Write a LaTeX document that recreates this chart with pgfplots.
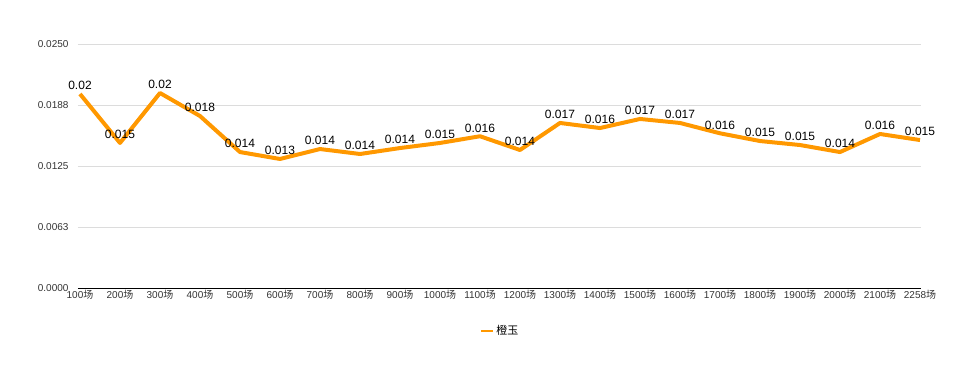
\documentclass[border=0pt]{standalone}
\usepackage{pgfplots}
\pgfplotsset{compat=1.18}
\usepackage{fontspec}
\setmainfont{Liberation Sans}
\newfontfamily\cjk{Noto Sans CJK SC}
\definecolor{lineorange}{RGB}{255,152,0}
\definecolor{gridgray}{RGB}{220,220,220}
\begin{document}
\begin{tikzpicture}
\begin{axis}[
  scale only axis,
  width=843pt, height=244pt,
  xmin=-0.05, xmax=21.025,
  ymin=0, ymax=0.025,
  axis x line*=bottom,
  axis y line*=left,
  x axis line style={black, line width=1pt},
  y axis line style={draw=none},
  xtick=data,
  xticklabels={100{\cjk 场},200{\cjk 场},300{\cjk 场},400{\cjk 场},500{\cjk 场},600{\cjk 场},700{\cjk 场},800{\cjk 场},900{\cjk 场},1000{\cjk 场},1100{\cjk 场},1200{\cjk 场},1300{\cjk 场},1400{\cjk 场},1500{\cjk 场},1600{\cjk 场},1700{\cjk 场},1800{\cjk 场},1900{\cjk 场},2000{\cjk 场},2100{\cjk 场},2258{\cjk 场}},
  x tick label style={font=\fontsize{10}{12}\selectfont, text=black!80, inner sep=1pt, yshift=-1pt},
  major tick length=0pt,
  scaled y ticks=false,
  ytick={0,0.00625,0.0125,0.01875,0.025},
  yticklabels={0.0000,0.0063,0.0125,0.0188,0.0250},
  y tick label style={font=\fontsize{10}{12}\selectfont, text=black!80, xshift=-6pt},
  ymajorgrids,
  grid style={gridgray, line width=0.8pt},
  /pgf/number format/assume math mode=true,
  nodes near coords,
  nodes near coords style={font=\fontsize{12}{14}\selectfont, text=black, anchor=south, inner sep=1pt, yshift=1pt,
     /pgf/number format/fixed, /pgf/number format/precision=3},
  legend style={at={(0.5006,-0.176)}, anchor=center, draw=none, fill=none,
     font=\fontsize{11}{13}\selectfont\cjk, legend cell align=left},
  legend image code/.code={\draw[lineorange, line width=2.5pt] (0pt,0pt) -- (12pt,0pt);},
  clip=false,
]
\addplot[lineorange, line width=4pt, line join=round] coordinates {
  (0,0.01988) (1,0.01486) (2,0.01998) (3,0.01762) (4,0.01393) (5,0.01322)
  (6,0.01424) (7,0.01373) (8,0.01434) (9,0.01486) (10,0.01555) (11,0.01414)
  (12,0.01691) (13,0.01639) (14,0.01732) (15,0.01691) (16,0.01585) (17,0.01506)
  (18,0.01465) (19,0.01393) (20,0.01578) (21,0.01516)
};
\addlegendentry{橙玉}
\end{axis}
\pgfresetboundingbox
\path (current axis.south west) ++(-78pt,-80pt) rectangle ++(969pt,368pt);
\end{tikzpicture}
\end{document}
